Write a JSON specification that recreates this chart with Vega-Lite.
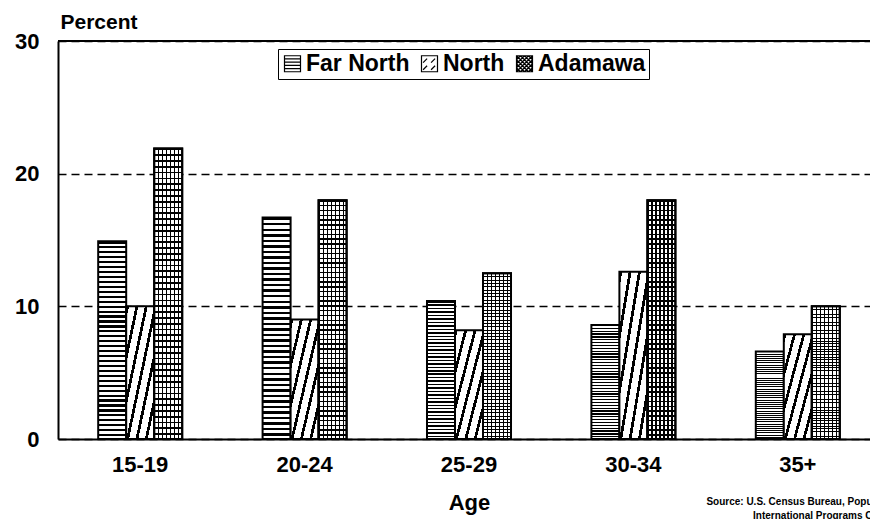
{
"$schema":"https://vega.github.io/schema/vega-lite/v6.json",
"width":812,"height":398,
"autosize":{"type":"none"},
"padding":{"left":58,"top":41,"right":0,"bottom":80},
"background":"white",
"config":{"font":"Liberation Sans","view":{"stroke":null}},
"title":{"text":["Source: U.S. Census Bureau, Population Division,","International Programs Center"],"orient":"bottom","anchor":"start","align":"center","dx":767,"dy":-16,"offset":0,"frame":"group","baseline":"top","fontSize":10,"font":"Liberation Sans","fontWeight":"bold","lineHeight":14,"color":"black"},
"data":{"values":[
{"age":"15-19","region":"Far North","value":14.9},{"age":"15-19","region":"North","value":10.0},{"age":"15-19","region":"Adamawa","value":21.9},
{"age":"20-24","region":"Far North","value":16.7},{"age":"20-24","region":"North","value":9.0},{"age":"20-24","region":"Adamawa","value":18.0},
{"age":"25-29","region":"Far North","value":10.4},{"age":"25-29","region":"North","value":8.2},{"age":"25-29","region":"Adamawa","value":12.5},
{"age":"30-34","region":"Far North","value":8.6},{"age":"30-34","region":"North","value":12.6},{"age":"30-34","region":"Adamawa","value":18.0},
{"age":"35+","region":"Far North","value":6.6},{"age":"35+","region":"North","value":7.9},{"age":"35+","region":"Adamawa","value":10.0}
]},
"layer":[
{"mark":{"type":"bar","stroke":"black","strokeWidth":2},
"encoding":{
"x":{"field":"age","type":"nominal","sort":["15-19","20-24","25-29","30-34","35+"],"scale":{"type":"band","range":[0,822],"paddingInner":0.489,"paddingOuter":0.2445},
"axis":{"title":"Age","labelAngle":0,"labelFontSize":22,"labelFontWeight":"bold","labelColor":"black","labelPadding":15,"tickSize":0,"domainColor":"black","domainWidth":2,"titleFontSize":22,"titleFontWeight":"bold","titleColor":"black","titlePadding":17}},
"xOffset":{"field":"region","type":"nominal","sort":["Far North","North","Adamawa"],"scale":{"domain":["Far North","North","Adamawa"],"paddingInner":0,"paddingOuter":0}},
"y":{"field":"value","type":"quantitative","scale":{"domain":[0,30],"nice":false},
"axis":{"title":"Percent","values":[0,10,20,30],"grid":true,"gridDash":[8,5],"gridColor":"black","gridWidth":1.3,"domainColor":"black","domainWidth":2,"tickSize":0,"labelPadding":19,"labelFontSize":22,"labelFontWeight":"bold","labelColor":"black","titleAngle":0,"titleAlign":"left","titleBaseline":"alphabetic","titleX":2,"titleY":-13,"titleFontSize":21,"titleFontWeight":"bold","titleColor":"black"}},
"fill":{"condition":[
{"test":"datum.region === 'Far North'","value":{"gradient":"linear","x1":0,"y1":0,"x2":0,"y2":1,"stops":[
{"offset":0,"color":"#000"},{"offset":0.011,"color":"#000"},{"offset":0.011,"color":"#fff"},{"offset":0.025,"color":"#fff"},
{"offset":0.025,"color":"#000"},{"offset":0.036,"color":"#000"},{"offset":0.036,"color":"#fff"},{"offset":0.05,"color":"#fff"},
{"offset":0.05,"color":"#000"},{"offset":0.061,"color":"#000"},{"offset":0.061,"color":"#fff"},{"offset":0.075,"color":"#fff"},
{"offset":0.075,"color":"#000"},{"offset":0.086,"color":"#000"},{"offset":0.086,"color":"#fff"},{"offset":0.1,"color":"#fff"},
{"offset":0.1,"color":"#000"},{"offset":0.111,"color":"#000"},{"offset":0.111,"color":"#fff"},{"offset":0.125,"color":"#fff"},
{"offset":0.125,"color":"#000"},{"offset":0.136,"color":"#000"},{"offset":0.136,"color":"#fff"},{"offset":0.15,"color":"#fff"},
{"offset":0.15,"color":"#000"},{"offset":0.161,"color":"#000"},{"offset":0.161,"color":"#fff"},{"offset":0.175,"color":"#fff"},
{"offset":0.175,"color":"#000"},{"offset":0.186,"color":"#000"},{"offset":0.186,"color":"#fff"},{"offset":0.2,"color":"#fff"},
{"offset":0.2,"color":"#000"},{"offset":0.211,"color":"#000"},{"offset":0.211,"color":"#fff"},{"offset":0.225,"color":"#fff"},
{"offset":0.225,"color":"#000"},{"offset":0.236,"color":"#000"},{"offset":0.236,"color":"#fff"},{"offset":0.25,"color":"#fff"},
{"offset":0.25,"color":"#000"},{"offset":0.261,"color":"#000"},{"offset":0.261,"color":"#fff"},{"offset":0.275,"color":"#fff"},
{"offset":0.275,"color":"#000"},{"offset":0.286,"color":"#000"},{"offset":0.286,"color":"#fff"},{"offset":0.3,"color":"#fff"},
{"offset":0.3,"color":"#000"},{"offset":0.311,"color":"#000"},{"offset":0.311,"color":"#fff"},{"offset":0.325,"color":"#fff"},
{"offset":0.325,"color":"#000"},{"offset":0.336,"color":"#000"},{"offset":0.336,"color":"#fff"},{"offset":0.35,"color":"#fff"},
{"offset":0.35,"color":"#000"},{"offset":0.361,"color":"#000"},{"offset":0.361,"color":"#fff"},{"offset":0.375,"color":"#fff"},
{"offset":0.375,"color":"#000"},{"offset":0.386,"color":"#000"},{"offset":0.386,"color":"#fff"},{"offset":0.4,"color":"#fff"},
{"offset":0.4,"color":"#000"},{"offset":0.411,"color":"#000"},{"offset":0.411,"color":"#fff"},{"offset":0.425,"color":"#fff"},
{"offset":0.425,"color":"#000"},{"offset":0.436,"color":"#000"},{"offset":0.436,"color":"#fff"},{"offset":0.45,"color":"#fff"},
{"offset":0.45,"color":"#000"},{"offset":0.461,"color":"#000"},{"offset":0.461,"color":"#fff"},{"offset":0.475,"color":"#fff"},
{"offset":0.475,"color":"#000"},{"offset":0.486,"color":"#000"},{"offset":0.486,"color":"#fff"},{"offset":0.5,"color":"#fff"},
{"offset":0.5,"color":"#000"},{"offset":0.511,"color":"#000"},{"offset":0.511,"color":"#fff"},{"offset":0.525,"color":"#fff"},
{"offset":0.525,"color":"#000"},{"offset":0.536,"color":"#000"},{"offset":0.536,"color":"#fff"},{"offset":0.55,"color":"#fff"},
{"offset":0.55,"color":"#000"},{"offset":0.561,"color":"#000"},{"offset":0.561,"color":"#fff"},{"offset":0.575,"color":"#fff"},
{"offset":0.575,"color":"#000"},{"offset":0.586,"color":"#000"},{"offset":0.586,"color":"#fff"},{"offset":0.6,"color":"#fff"},
{"offset":0.6,"color":"#000"},{"offset":0.611,"color":"#000"},{"offset":0.611,"color":"#fff"},{"offset":0.625,"color":"#fff"},
{"offset":0.625,"color":"#000"},{"offset":0.636,"color":"#000"},{"offset":0.636,"color":"#fff"},{"offset":0.65,"color":"#fff"},
{"offset":0.65,"color":"#000"},{"offset":0.661,"color":"#000"},{"offset":0.661,"color":"#fff"},{"offset":0.675,"color":"#fff"},
{"offset":0.675,"color":"#000"},{"offset":0.686,"color":"#000"},{"offset":0.686,"color":"#fff"},{"offset":0.7,"color":"#fff"},
{"offset":0.7,"color":"#000"},{"offset":0.711,"color":"#000"},{"offset":0.711,"color":"#fff"},{"offset":0.725,"color":"#fff"},
{"offset":0.725,"color":"#000"},{"offset":0.736,"color":"#000"},{"offset":0.736,"color":"#fff"},{"offset":0.75,"color":"#fff"},
{"offset":0.75,"color":"#000"},{"offset":0.761,"color":"#000"},{"offset":0.761,"color":"#fff"},{"offset":0.775,"color":"#fff"},
{"offset":0.775,"color":"#000"},{"offset":0.786,"color":"#000"},{"offset":0.786,"color":"#fff"},{"offset":0.8,"color":"#fff"},
{"offset":0.8,"color":"#000"},{"offset":0.811,"color":"#000"},{"offset":0.811,"color":"#fff"},{"offset":0.825,"color":"#fff"},
{"offset":0.825,"color":"#000"},{"offset":0.836,"color":"#000"},{"offset":0.836,"color":"#fff"},{"offset":0.85,"color":"#fff"},
{"offset":0.85,"color":"#000"},{"offset":0.861,"color":"#000"},{"offset":0.861,"color":"#fff"},{"offset":0.875,"color":"#fff"},
{"offset":0.875,"color":"#000"},{"offset":0.886,"color":"#000"},{"offset":0.886,"color":"#fff"},{"offset":0.9,"color":"#fff"},
{"offset":0.9,"color":"#000"},{"offset":0.911,"color":"#000"},{"offset":0.911,"color":"#fff"},{"offset":0.925,"color":"#fff"},
{"offset":0.925,"color":"#000"},{"offset":0.936,"color":"#000"},{"offset":0.936,"color":"#fff"},{"offset":0.95,"color":"#fff"},
{"offset":0.95,"color":"#000"},{"offset":0.961,"color":"#000"},{"offset":0.961,"color":"#fff"},{"offset":0.975,"color":"#fff"},
{"offset":0.975,"color":"#000"},{"offset":0.986,"color":"#000"},{"offset":0.986,"color":"#fff"},{"offset":1,"color":"#fff"}
]}},
{"test":"datum.region === 'North'","value":{"gradient":"linear","x1":0,"y1":0,"x2":1,"y2":1,"stops":[
{"offset":0,"color":"#000"},{"offset":0.05,"color":"#000"},{"offset":0.05,"color":"#fff"},{"offset":0.1667,"color":"#fff"},
{"offset":0.1667,"color":"#000"},{"offset":0.2167,"color":"#000"},{"offset":0.2167,"color":"#fff"},{"offset":0.3333,"color":"#fff"},
{"offset":0.3333,"color":"#000"},{"offset":0.3833,"color":"#000"},{"offset":0.3833,"color":"#fff"},{"offset":0.5,"color":"#fff"},
{"offset":0.5,"color":"#000"},{"offset":0.55,"color":"#000"},{"offset":0.55,"color":"#fff"},{"offset":0.6667,"color":"#fff"},
{"offset":0.6667,"color":"#000"},{"offset":0.7167,"color":"#000"},{"offset":0.7167,"color":"#fff"},{"offset":0.8333,"color":"#fff"},
{"offset":0.8333,"color":"#000"},{"offset":0.8833,"color":"#000"},{"offset":0.8833,"color":"#fff"},{"offset":1,"color":"#fff"}
]}}],
"value":{"gradient":"linear","x1":0,"y1":0,"x2":1,"y2":0,"stops":[
{"offset":0,"color":"#000"},{"offset":0.043,"color":"#000"},{"offset":0.043,"color":"#fff"},{"offset":0.1429,"color":"#fff"},
{"offset":0.1429,"color":"#000"},{"offset":0.1859,"color":"#000"},{"offset":0.1859,"color":"#fff"},{"offset":0.2857,"color":"#fff"},
{"offset":0.2857,"color":"#000"},{"offset":0.3287,"color":"#000"},{"offset":0.3287,"color":"#fff"},{"offset":0.4286,"color":"#fff"},
{"offset":0.4286,"color":"#000"},{"offset":0.4716,"color":"#000"},{"offset":0.4716,"color":"#fff"},{"offset":0.5714,"color":"#fff"},
{"offset":0.5714,"color":"#000"},{"offset":0.6144,"color":"#000"},{"offset":0.6144,"color":"#fff"},{"offset":0.7143,"color":"#fff"},
{"offset":0.7143,"color":"#000"},{"offset":0.7573,"color":"#000"},{"offset":0.7573,"color":"#fff"},{"offset":0.8571,"color":"#fff"},
{"offset":0.8571,"color":"#000"},{"offset":0.9001,"color":"#000"},{"offset":0.9001,"color":"#fff"},{"offset":1,"color":"#fff"}
]}}
}},
{"transform":[{"filter":"datum.region === 'Adamawa'"}],
"mark":{"type":"bar","stroke":"black","strokeWidth":2,"fill":{"gradient":"linear","x1":0,"y1":0,"x2":0,"y2":1,"stops":[
{"offset":0,"color":"#000"},{"offset":0.006,"color":"#000"},{"offset":0.006,"color":"rgba(0,0,0,0)"},{"offset":0.02,"color":"rgba(0,0,0,0)"},
{"offset":0.02,"color":"#000"},{"offset":0.026,"color":"#000"},{"offset":0.026,"color":"rgba(0,0,0,0)"},{"offset":0.04,"color":"rgba(0,0,0,0)"},
{"offset":0.04,"color":"#000"},{"offset":0.046,"color":"#000"},{"offset":0.046,"color":"rgba(0,0,0,0)"},{"offset":0.06,"color":"rgba(0,0,0,0)"},
{"offset":0.06,"color":"#000"},{"offset":0.066,"color":"#000"},{"offset":0.066,"color":"rgba(0,0,0,0)"},{"offset":0.08,"color":"rgba(0,0,0,0)"},
{"offset":0.08,"color":"#000"},{"offset":0.086,"color":"#000"},{"offset":0.086,"color":"rgba(0,0,0,0)"},{"offset":0.1,"color":"rgba(0,0,0,0)"},
{"offset":0.1,"color":"#000"},{"offset":0.106,"color":"#000"},{"offset":0.106,"color":"rgba(0,0,0,0)"},{"offset":0.12,"color":"rgba(0,0,0,0)"},
{"offset":0.12,"color":"#000"},{"offset":0.126,"color":"#000"},{"offset":0.126,"color":"rgba(0,0,0,0)"},{"offset":0.14,"color":"rgba(0,0,0,0)"},
{"offset":0.14,"color":"#000"},{"offset":0.146,"color":"#000"},{"offset":0.146,"color":"rgba(0,0,0,0)"},{"offset":0.16,"color":"rgba(0,0,0,0)"},
{"offset":0.16,"color":"#000"},{"offset":0.166,"color":"#000"},{"offset":0.166,"color":"rgba(0,0,0,0)"},{"offset":0.18,"color":"rgba(0,0,0,0)"},
{"offset":0.18,"color":"#000"},{"offset":0.186,"color":"#000"},{"offset":0.186,"color":"rgba(0,0,0,0)"},{"offset":0.2,"color":"rgba(0,0,0,0)"},
{"offset":0.2,"color":"#000"},{"offset":0.206,"color":"#000"},{"offset":0.206,"color":"rgba(0,0,0,0)"},{"offset":0.22,"color":"rgba(0,0,0,0)"},
{"offset":0.22,"color":"#000"},{"offset":0.226,"color":"#000"},{"offset":0.226,"color":"rgba(0,0,0,0)"},{"offset":0.24,"color":"rgba(0,0,0,0)"},
{"offset":0.24,"color":"#000"},{"offset":0.246,"color":"#000"},{"offset":0.246,"color":"rgba(0,0,0,0)"},{"offset":0.26,"color":"rgba(0,0,0,0)"},
{"offset":0.26,"color":"#000"},{"offset":0.266,"color":"#000"},{"offset":0.266,"color":"rgba(0,0,0,0)"},{"offset":0.28,"color":"rgba(0,0,0,0)"},
{"offset":0.28,"color":"#000"},{"offset":0.286,"color":"#000"},{"offset":0.286,"color":"rgba(0,0,0,0)"},{"offset":0.3,"color":"rgba(0,0,0,0)"},
{"offset":0.3,"color":"#000"},{"offset":0.306,"color":"#000"},{"offset":0.306,"color":"rgba(0,0,0,0)"},{"offset":0.32,"color":"rgba(0,0,0,0)"},
{"offset":0.32,"color":"#000"},{"offset":0.326,"color":"#000"},{"offset":0.326,"color":"rgba(0,0,0,0)"},{"offset":0.34,"color":"rgba(0,0,0,0)"},
{"offset":0.34,"color":"#000"},{"offset":0.346,"color":"#000"},{"offset":0.346,"color":"rgba(0,0,0,0)"},{"offset":0.36,"color":"rgba(0,0,0,0)"},
{"offset":0.36,"color":"#000"},{"offset":0.366,"color":"#000"},{"offset":0.366,"color":"rgba(0,0,0,0)"},{"offset":0.38,"color":"rgba(0,0,0,0)"},
{"offset":0.38,"color":"#000"},{"offset":0.386,"color":"#000"},{"offset":0.386,"color":"rgba(0,0,0,0)"},{"offset":0.4,"color":"rgba(0,0,0,0)"},
{"offset":0.4,"color":"#000"},{"offset":0.406,"color":"#000"},{"offset":0.406,"color":"rgba(0,0,0,0)"},{"offset":0.42,"color":"rgba(0,0,0,0)"},
{"offset":0.42,"color":"#000"},{"offset":0.426,"color":"#000"},{"offset":0.426,"color":"rgba(0,0,0,0)"},{"offset":0.44,"color":"rgba(0,0,0,0)"},
{"offset":0.44,"color":"#000"},{"offset":0.446,"color":"#000"},{"offset":0.446,"color":"rgba(0,0,0,0)"},{"offset":0.46,"color":"rgba(0,0,0,0)"},
{"offset":0.46,"color":"#000"},{"offset":0.466,"color":"#000"},{"offset":0.466,"color":"rgba(0,0,0,0)"},{"offset":0.48,"color":"rgba(0,0,0,0)"},
{"offset":0.48,"color":"#000"},{"offset":0.486,"color":"#000"},{"offset":0.486,"color":"rgba(0,0,0,0)"},{"offset":0.5,"color":"rgba(0,0,0,0)"},
{"offset":0.5,"color":"#000"},{"offset":0.506,"color":"#000"},{"offset":0.506,"color":"rgba(0,0,0,0)"},{"offset":0.52,"color":"rgba(0,0,0,0)"},
{"offset":0.52,"color":"#000"},{"offset":0.526,"color":"#000"},{"offset":0.526,"color":"rgba(0,0,0,0)"},{"offset":0.54,"color":"rgba(0,0,0,0)"},
{"offset":0.54,"color":"#000"},{"offset":0.546,"color":"#000"},{"offset":0.546,"color":"rgba(0,0,0,0)"},{"offset":0.56,"color":"rgba(0,0,0,0)"},
{"offset":0.56,"color":"#000"},{"offset":0.566,"color":"#000"},{"offset":0.566,"color":"rgba(0,0,0,0)"},{"offset":0.58,"color":"rgba(0,0,0,0)"},
{"offset":0.58,"color":"#000"},{"offset":0.586,"color":"#000"},{"offset":0.586,"color":"rgba(0,0,0,0)"},{"offset":0.6,"color":"rgba(0,0,0,0)"},
{"offset":0.6,"color":"#000"},{"offset":0.606,"color":"#000"},{"offset":0.606,"color":"rgba(0,0,0,0)"},{"offset":0.62,"color":"rgba(0,0,0,0)"},
{"offset":0.62,"color":"#000"},{"offset":0.626,"color":"#000"},{"offset":0.626,"color":"rgba(0,0,0,0)"},{"offset":0.64,"color":"rgba(0,0,0,0)"},
{"offset":0.64,"color":"#000"},{"offset":0.646,"color":"#000"},{"offset":0.646,"color":"rgba(0,0,0,0)"},{"offset":0.66,"color":"rgba(0,0,0,0)"},
{"offset":0.66,"color":"#000"},{"offset":0.666,"color":"#000"},{"offset":0.666,"color":"rgba(0,0,0,0)"},{"offset":0.68,"color":"rgba(0,0,0,0)"},
{"offset":0.68,"color":"#000"},{"offset":0.686,"color":"#000"},{"offset":0.686,"color":"rgba(0,0,0,0)"},{"offset":0.7,"color":"rgba(0,0,0,0)"},
{"offset":0.7,"color":"#000"},{"offset":0.706,"color":"#000"},{"offset":0.706,"color":"rgba(0,0,0,0)"},{"offset":0.72,"color":"rgba(0,0,0,0)"},
{"offset":0.72,"color":"#000"},{"offset":0.726,"color":"#000"},{"offset":0.726,"color":"rgba(0,0,0,0)"},{"offset":0.74,"color":"rgba(0,0,0,0)"},
{"offset":0.74,"color":"#000"},{"offset":0.746,"color":"#000"},{"offset":0.746,"color":"rgba(0,0,0,0)"},{"offset":0.76,"color":"rgba(0,0,0,0)"},
{"offset":0.76,"color":"#000"},{"offset":0.766,"color":"#000"},{"offset":0.766,"color":"rgba(0,0,0,0)"},{"offset":0.78,"color":"rgba(0,0,0,0)"},
{"offset":0.78,"color":"#000"},{"offset":0.786,"color":"#000"},{"offset":0.786,"color":"rgba(0,0,0,0)"},{"offset":0.8,"color":"rgba(0,0,0,0)"},
{"offset":0.8,"color":"#000"},{"offset":0.806,"color":"#000"},{"offset":0.806,"color":"rgba(0,0,0,0)"},{"offset":0.82,"color":"rgba(0,0,0,0)"},
{"offset":0.82,"color":"#000"},{"offset":0.826,"color":"#000"},{"offset":0.826,"color":"rgba(0,0,0,0)"},{"offset":0.84,"color":"rgba(0,0,0,0)"},
{"offset":0.84,"color":"#000"},{"offset":0.846,"color":"#000"},{"offset":0.846,"color":"rgba(0,0,0,0)"},{"offset":0.86,"color":"rgba(0,0,0,0)"},
{"offset":0.86,"color":"#000"},{"offset":0.866,"color":"#000"},{"offset":0.866,"color":"rgba(0,0,0,0)"},{"offset":0.88,"color":"rgba(0,0,0,0)"},
{"offset":0.88,"color":"#000"},{"offset":0.886,"color":"#000"},{"offset":0.886,"color":"rgba(0,0,0,0)"},{"offset":0.9,"color":"rgba(0,0,0,0)"},
{"offset":0.9,"color":"#000"},{"offset":0.906,"color":"#000"},{"offset":0.906,"color":"rgba(0,0,0,0)"},{"offset":0.92,"color":"rgba(0,0,0,0)"},
{"offset":0.92,"color":"#000"},{"offset":0.926,"color":"#000"},{"offset":0.926,"color":"rgba(0,0,0,0)"},{"offset":0.94,"color":"rgba(0,0,0,0)"},
{"offset":0.94,"color":"#000"},{"offset":0.946,"color":"#000"},{"offset":0.946,"color":"rgba(0,0,0,0)"},{"offset":0.96,"color":"rgba(0,0,0,0)"},
{"offset":0.96,"color":"#000"},{"offset":0.966,"color":"#000"},{"offset":0.966,"color":"rgba(0,0,0,0)"},{"offset":0.98,"color":"rgba(0,0,0,0)"},
{"offset":0.98,"color":"#000"},{"offset":0.986,"color":"#000"},{"offset":0.986,"color":"rgba(0,0,0,0)"},{"offset":1,"color":"rgba(0,0,0,0)"}
]}},
"encoding":{
"x":{"field":"age","type":"nominal","sort":["15-19","20-24","25-29","30-34","35+"]},
"xOffset":{"field":"region","type":"nominal","sort":["Far North","North","Adamawa"]},
"y":{"field":"value","type":"quantitative"}
}},
{"mark":{"type":"point","opacity":0,"filled":false,"color":"black","strokeWidth":1.2},
"encoding":{
"x":{"field":"age","type":"nominal","sort":["15-19","20-24","25-29","30-34","35+"]},
"xOffset":{"field":"region","type":"nominal","sort":["Far North","North","Adamawa"]},
"y":{"field":"value","type":"quantitative"},
"shape":{"field":"region","type":"nominal","scale":{"domain":["Far North","North","Adamawa"],"range":[
"M-1,-1H1V1H-1Z M-1,-0.6H1 M-1,-0.2H1 M-1,0.2H1 M-1,0.6H1",
"M-1,-1H1V1H-1Z M-0.8,-0.15L-0.3,-0.65 M0.2,-0.15L0.7,-0.65 M-0.8,0.75L-0.3,0.25 M0.2,0.75L0.7,0.25",
"M-1,-1H1V1H-1Z M-1,0L0,-1 M-1,1L1,-1 M0,1L1,0 M-1,0L0,1 M-1,-1L1,1 M0,-1L1,0 M-1,-0.5L-0.5,-1 M-1,0.5L0.5,-1 M-0.5,1L1,-0.5 M0.5,1L1,0.5 M-1,0.5L-0.5,1 M-1,-0.5L0.5,1 M-0.5,-1L1,0.5 M0.5,-1L1,-0.5"]},
"legend":{"title":null,"orient":"none","legendX":220,"legendY":8,"direction":"horizontal","strokeColor":"black","padding":3,"symbolSize":256,"symbolStrokeColor":"black","symbolStrokeWidth":1.2,"symbolFillColor":"white","labelFontSize":23,"labelFontWeight":"bold","labelColor":"black","labelOffset":2,"columnPadding":8,"labelLimit":0}}
}},
{"mark":{"type":"rule","color":"black","strokeWidth":2},"encoding":{"y":{"datum":30}}}
]
}
